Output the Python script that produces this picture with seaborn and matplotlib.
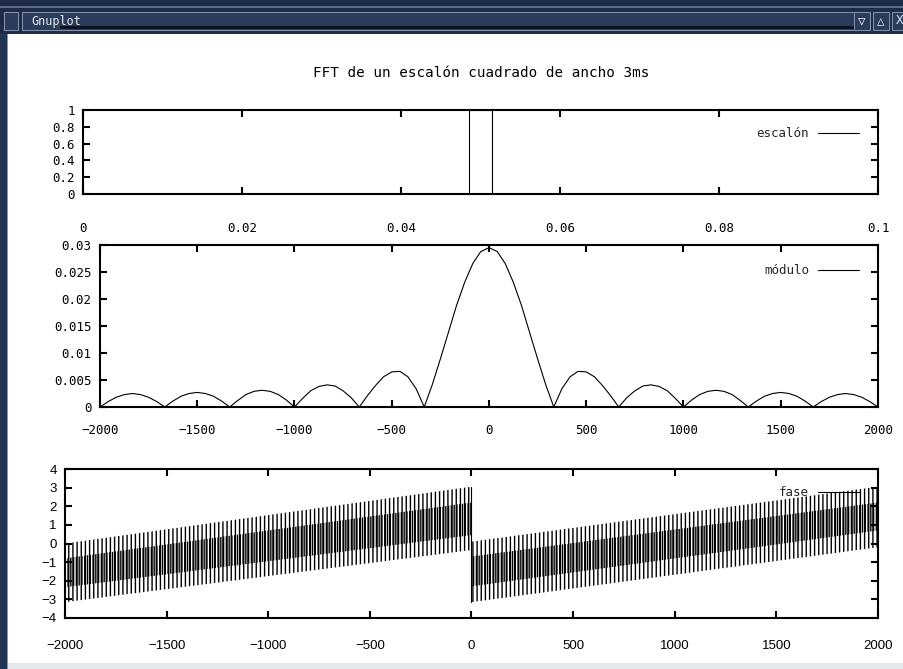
import matplotlib
matplotlib.use('Agg')
import matplotlib.pyplot as plt
import matplotlib.patches as mpatches
from matplotlib.ticker import FormatStrFormatter
import seaborn as sns

sns.set_style('ticks')
plt.rcParams['font.family'] = ['DejaVu Sans Mono', 'DejaVu Sans']
plt.rcParams['hatch.color'] = 'black'
plt.rcParams['hatch.linewidth'] = 1.0

# escalon de 3 ms centrado en 0.05 s
escalon_t = [0, 0.0485, 0.0485, 0.0515, 0.0515, 0.1]
escalon_v = [0, 0, 1, 1, 0, 0]

# modulo de la FFT (mitad positiva, el grafico es simetrico)
mod_f_pos = [0, 42, 83, 125, 167, 208, 250, 292, 333,
             375, 417, 458, 500, 542, 583, 625, 667,
             708, 750, 792, 833, 875, 917, 958, 1000,
             1042, 1083, 1125, 1167, 1208, 1250, 1292, 1333,
             1375, 1417, 1458, 1500, 1542, 1583, 1625, 1667,
             1708, 1750, 1792, 1833, 1875, 1917, 1958, 2000]
mod_v_pos = [0.0295, 0.0288, 0.0266, 0.0231, 0.0188, 0.0139, 0.0089, 0.0041, 0,
             0.0034, 0.0056, 0.0066, 0.0065, 0.0056, 0.0040, 0.0021, 0,
             0.0017, 0.0030, 0.0039, 0.0041, 0.0038, 0.0030, 0.0016, 0,
             0.0013, 0.0023, 0.0029, 0.0031, 0.0029, 0.0023, 0.0012, 0,
             0.0011, 0.0020, 0.0025, 0.0027, 0.0025, 0.0020, 0.0011, 0,
             0.0010, 0.0018, 0.0023, 0.0025, 0.0023, 0.0018, 0.0010, 0]
mod_f = [-f for f in mod_f_pos[:0:-1]] + mod_f_pos
mod_v = mod_v_pos[:0:-1] + mod_v_pos

# fase: bandas (trazos finos y zona densa central)
fase_f_izq = [-2000, 0]
fase_lo_izq = [-3.15, -0.35]
fase_hi_izq = [0.0, 3.05]
fase_in_lo_izq = [-2.35, 0.45]
fase_in_hi_izq = [-0.8, 2.2]
fase_f_der = [0, 2000]
fase_lo_der = [-3.15, -0.2]
fase_hi_der = [0.1, 3.05]
fase_in_lo_der = [-2.3, 0.7]
fase_in_hi_der = [-0.7, 2.2]

W, H = 904, 669
fig = plt.figure(figsize=(W / 100, H / 100), dpi=100)
fig.patch.set_facecolor('white')


def box(px, py, pw, ph):
    return [px / W, 1 - (py + ph) / H, pw / W, ph / H]


def estilo(ax, pad_x):
    for s in ax.spines.values():
        s.set_linewidth(1.5)
        s.set_color('black')
    ax.tick_params(direction='in', top=True, right=True, length=5, width=1.5,
                   labelsize=9, colors='black')
    ax.tick_params(axis='x', pad=pad_x)
    ax.tick_params(axis='y', pad=6)
    ax.set_xlabel('')
    ax.set_ylabel('')


def leyenda(ax, dy):
    ax.legend(loc='upper right', frameon=False, markerfirst=False,
              handlelength=3.3, handletextpad=0.7, fontsize=9,
              bbox_to_anchor=(1 - 14 / ax.bbox.width, 1 - dy / ax.bbox.height),
              borderaxespad=0)


# panel 1: escalon
ax1 = fig.add_axes(box(83, 110, 795, 84))
sns.lineplot(x=escalon_t, y=escalon_v, ax=ax1, color='black', lw=0.8,
             estimator=None, sort=False, label='escalón')
ax1.set_xlim(0, 0.1)
ax1.set_ylim(0, 1)
ax1.set_xticks([0, 0.02, 0.04, 0.06, 0.08, 0.1])
ax1.set_yticks([0, 0.2, 0.4, 0.6, 0.8, 1])
ax1.xaxis.set_major_formatter(FormatStrFormatter('%g'))
ax1.yaxis.set_major_formatter(FormatStrFormatter('%g'))
estilo(ax1, 20)
leyenda(ax1, 12)

# panel 2: modulo
ax2 = fig.add_axes(box(100, 245, 778, 162))
sns.lineplot(x=mod_f, y=mod_v, ax=ax2, color='black', lw=0.8,
             estimator=None, sort=False, label='módulo')
ax2.set_xlim(-2000, 2000)
ax2.set_ylim(0, 0.03)
ax2.set_xticks(range(-2000, 2001, 500))
ax2.set_yticks([0, 0.005, 0.01, 0.015, 0.02, 0.025, 0.03])
ax2.yaxis.set_major_formatter(FormatStrFormatter('%g'))
estilo(ax2, 12)
leyenda(ax2, 14)

# panel 3: fase
ax3 = fig.add_axes(box(65, 469, 813, 149))
for f, lo, hi, ilo, ihi in [
        (fase_f_izq, fase_lo_izq, fase_hi_izq, fase_in_lo_izq, fase_in_hi_izq),
        (fase_f_der, fase_lo_der, fase_hi_der, fase_in_lo_der, fase_in_hi_der)]:
    ax3.fill_between(f, lo, hi, facecolor='none', edgecolor='black',
                     linewidth=0, hatch='||||')
    ax3.fill_between(f, ilo, ihi, facecolor='none', edgecolor='black',
                     linewidth=0, hatch='||||||')
salto_f = [fase_f_der[0], fase_f_der[0]]
salto_v = [fase_hi_izq[-1], fase_lo_der[0]]
sns.lineplot(x=salto_f, y=salto_v, ax=ax3, color='black', lw=0.8,
             estimator=None, sort=False, label='fase')
ax3.set_xlim(-2000, 2000)
ax3.set_ylim(-4, 4)
ax3.set_xticks(range(-2000, 2001, 500))
ax3.set_yticks(range(-4, 5))
estilo(ax3, 16)
for t in ax3.get_xticklabels() + ax3.get_yticklabels():
    t.set_family(['Liberation Sans', 'DejaVu Sans'])
    t.set_fontsize(9.5)
leyenda(ax3, 12)

fig.text(481 / W, 1 - 73 / H, 'FFT de un escalón cuadrado de ancho 3ms',
         ha='center', va='center', fontsize=10.3, color='black')

# marco de la ventana
def rect(px, py, pw, ph, **kw):
    fig.add_artist(mpatches.Rectangle((px / W, 1 - (py + ph) / H), pw / W, ph / H,
                                      transform=fig.transFigure, **kw))

rect(0, 0, W, 34, facecolor='#1d2b47', edgecolor='none')
rect(0, 6, W, 2, facecolor='#5a6b89', edgecolor='none')
rect(22, 12, 835, 18, facecolor='#2a3b5c', edgecolor='#7d8ca6', lw=0.8)
rect(60, 26, 797, 3, facecolor='#0b1220', edgecolor='none')
rect(4, 12, 14, 18, facecolor='#2a3b5c', edgecolor='#7d8ca6', lw=0.8)
for bx in [862, 881, 900]:
    rect(bx - 8, 12, 16, 18, facecolor='#2a3b5c', edgecolor='#7d8ca6', lw=0.8)
fig.text(862 / W, 1 - 21 / H, '▽', ha='center', va='center', color='#dfe5ee', fontsize=9)
fig.text(881 / W, 1 - 21 / H, '△', ha='center', va='center', color='#dfe5ee', fontsize=9)
fig.text(900 / W, 1 - 21 / H, 'X', ha='center', va='center', color='#dfe5ee', fontsize=9)
fig.text(31 / W, 1 - 21 / H, 'Gnuplot', ha='left', va='center', color='#e6eaf0', fontsize=8.5)
rect(0, 34, 7, H - 34, facecolor='#243553', edgecolor='none')
rect(7, 34, 1, H - 34, facecolor='#8796b0', edgecolor='none')
rect(8, H - 6, W - 8, 6, facecolor='#e3e9ec', edgecolor='none')

fig.savefig('out.png', dpi=100, facecolor='white')
